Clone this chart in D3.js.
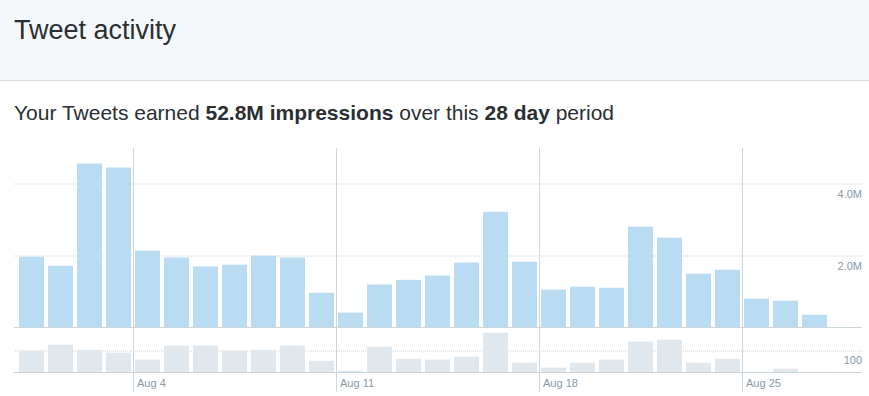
<!DOCTYPE html>
<html>
<head>
<meta charset="utf-8">
<script src="https://cdn.jsdelivr.net/npm/d3@7"></script>
<style>
  body { margin: 0; background: #fff; font-family: "Liberation Sans", Arial, sans-serif; }
  .grid line { stroke: #c8d3db; stroke-dasharray: 1,1; }
  .grid path { display: none; }
  .grid text { fill: #8899a6; font-size: 11px; }
</style>
</head>
<body>
<script>
// data
const days = ["Jul 31", "Aug 1", "Aug 2", "Aug 3", "Aug 4", "Aug 5", "Aug 6", "Aug 7",
    "Aug 8", "Aug 9", "Aug 10", "Aug 11", "Aug 12", "Aug 13", "Aug 14", "Aug 15",
    "Aug 16", "Aug 17", "Aug 18", "Aug 19", "Aug 20", "Aug 21", "Aug 22", "Aug 23",
    "Aug 24", "Aug 25", "Aug 26", "Aug 27"];
const impressions = [1.95, 1.70, 4.54, 4.43, 2.12, 1.93, 1.68, 1.73, 1.98, 1.93,
    0.95, 0.40, 1.18, 1.31, 1.43, 1.79, 3.20, 1.81, 1.04, 1.12,
    1.09, 2.79, 2.48, 1.48, 1.59, 0.79, 0.73, 0.34].map(v => v * 1e6);
const tweets = [97, 124, 101, 88, 56, 120, 120, 97, 101, 120,
    51, 6, 115, 60, 56, 70, 179, 42, 20, 42,
    56, 138, 147, 42, 60, 2, 15, 1];
const weekTicks = ["Aug 4", "Aug 11", "Aug 18", "Aug 25"];
const impressionTicks = [2e6, 4e6];
const tweetTicks = [100];

const W = 869, H = 396;
const left = 14, right = 862;

const svg = d3.select("body").append("svg")
    .attr("width", W)
    .attr("height", H);

// header band
svg.append("rect")
    .attr("width", W).attr("height", 80)
    .attr("fill", "#f5f8fa");
svg.append("line")
    .attr("x1", 0).attr("x2", W)
    .attr("y1", 80.5).attr("y2", 80.5)
    .attr("stroke", "#d3dce3");
svg.append("text")
    .attr("x", 14).attr("y", 39)
    .attr("fill", "#292f33")
    .style("font-size", "27px")
    .text("Tweet activity");

let sub = svg.append("text")
    .attr("x", 14).attr("y", 120)
    .attr("fill", "#292f33")
    .style("font-size", "21px");
sub.append("tspan").text("Your Tweets earned ");
sub.append("tspan").attr("font-weight", "bold").text("52.8M impressions");
sub.append("tspan").text(" over this ");
sub.append("tspan").attr("font-weight", "bold").text("28 day");
sub.append("tspan").text(" period");

// scales
let x = d3.scaleBand()
    .domain(days)
    .range([17, 17 + 29 * days.length])
    .paddingInner(4 / 29)
    .paddingOuter(2 / 29);
let y = d3.scaleLinear().domain([0, 4e6]).range([327, 183]);
let y2 = d3.scaleLinear().domain([0, 100]).range([372, 350]);

// gridlines + labels on the right
svg.append("g")
    .attr("class", "grid")
    .attr("transform", "translate(" + right + ",0)")
    .call(d3.axisLeft(y).tickValues(impressionTicks).tickSize(right - left)
        .tickFormat(d => d3.format(".1f")(d / 1e6) + "M"))
    .call(g => g.selectAll("line").attr("transform", "translate(0,0.5)"))
    .call(g => g.selectAll("text").attr("x", 0).attr("dy", 14.5));

svg.append("g")
    .attr("class", "grid")
    .attr("transform", "translate(" + right + ",0)")
    .call(d3.axisLeft(y2).tickValues(tweetTicks).tickSize(right - left))
    .call(g => g.selectAll("line").attr("transform", "translate(0,0.5)"))
    .call(g => g.selectAll("text").attr("x", 0).attr("dy", 13.5));

// bars
svg.append("g").selectAll("rect")
    .data(impressions)
    .join("rect")
    .attr("x", (d, i) => x(days[i]))
    .attr("y", d => y(d))
    .attr("width", x.bandwidth())
    .attr("height", d => y(0) - y(d))
    .attr("fill", "#b9dcf2");

svg.append("g").selectAll("rect")
    .data(tweets)
    .join("rect")
    .attr("x", (d, i) => x(days[i]))
    .attr("y", d => y2(d))
    .attr("width", x.bandwidth())
    .attr("height", d => y2(0) - y2(d))
    .attr("fill", "#e1e8ed");

// baselines
[y(0), y2(0)].forEach(function (by) {
    svg.append("line")
        .attr("x1", left).attr("x2", right)
        .attr("y1", by + 0.5).attr("y2", by + 0.5)
        .attr("stroke", "#ccd6dd");
});

// week separators
let half = x.step() * x.paddingInner() / 2;
let weeks = svg.append("g").selectAll("g")
    .data(weekTicks)
    .join("g")
    .attr("transform", d => "translate(" + Math.round(x(d) - half) + ",0)");
weeks.append("line")
    .attr("x1", 0.5).attr("x2", 0.5)
    .attr("y1", 148).attr("y2", 392)
    .attr("stroke", "#ccd6dd");
weeks.append("text")
    .attr("x", 4).attr("y", 387)
    .attr("fill", "#8899a6")
    .style("font-size", "11px")
    .text(d => d);
</script>
</body>
</html>
